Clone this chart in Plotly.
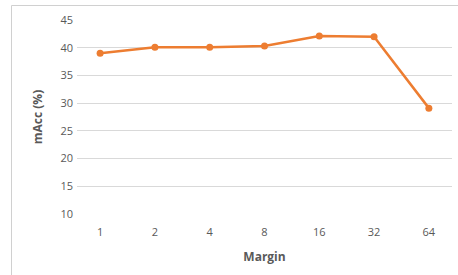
import plotly.graph_objects as go

categories = ["1", "2", "4", "8", "16", "32", "64"]
macc = [39.0, 40.1, 40.1, 40.3, 42.1, 42.0, 29.1]
y_ticks = [10, 15, 20, 25, 30, 35, 40, 45]

W, H = 458, 275
L, R, T, B = 77, 6, 20, 61
pw, ph = W - L - R, H - T - B

fig = go.Figure(go.Scatter(
    x=categories, y=macc, mode="lines+markers",
    line=dict(color="#ED7D31", width=2.5),
    marker=dict(color="#ED7D31", size=7),
))

font_family = "Open Sans, Liberation Sans, sans-serif"
fig.update_layout(
    width=W, height=H,
    margin=dict(l=L, r=R, t=T, b=B, autoexpand=False),
    paper_bgcolor="white", plot_bgcolor="white",
    showlegend=False,
    font=dict(family=font_family, color="#595959", size=11),
    xaxis=dict(type="category", showgrid=False, showline=False, zeroline=False,
               ticks="", ticklabelstandoff=10, tickfont=dict(size=11, color="#595959"),
               automargin=False,
               title=dict(text="<b>Margin</b>", font=dict(size=12, color="#595959"), standoff=14)),
    yaxis=dict(range=[10, 45], tickvals=y_ticks, showgrid=True, gridcolor="#D9D9D9",
               gridwidth=1, zeroline=False, showline=False, ticks="",
               ticklabelstandoff=3, automargin=False,
               tickfont=dict(size=11, color="#595959"),
               title=dict(text="<b>mAcc (%)</b>", font=dict(size=12, color="#595959"), standoff=15)),
    shapes=[dict(type="rect", xref="paper", yref="paper",
                 x0=(11.5 - L) / pw, x1=(W + 5 - L) / pw,
                 y0=-(B + 10) / ph, y1=1 + (T - 5.5) / ph,
                 line=dict(color="#D0D0D0", width=1), layer="above")],
)
fig.write_html("out.html", config={"displayModeBar": False},
               post_script="document.body.style.margin='0';")
